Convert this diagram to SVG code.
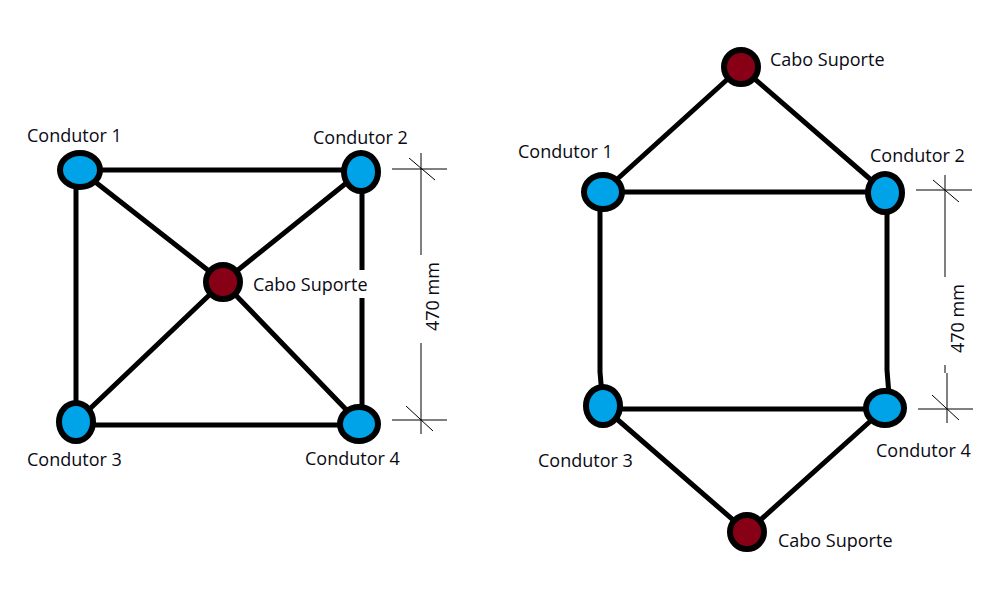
<svg xmlns="http://www.w3.org/2000/svg" width="992" height="594" viewBox="0 0 992 594">
<style>
.c{stroke:#000;stroke-width:5;fill:none}
.d{stroke:#000;stroke-width:1;fill:none}
.b{fill:#00a2e8;stroke:#000;stroke-width:6}
.r{fill:#880015;stroke:#000;stroke-width:6}
text{font-family:"Open Sans","Noto Sans","DejaVu Sans",sans-serif;font-size:18px;fill:#0a0a14}
</style>
<rect width="992" height="594" fill="#fff"/>
<g id="connectors">
<path class="c" d="M80 170H362M76 170V422M362 172V270M362 298V424M76 425H360M80 170L223 282L360 172M76 422L223 282L360 424"/>
<path class="c" d="M603 192H885M600 192V372L603 407M887 194V370L890 408M603 409H885M603 192L741 67L885 192M603 407L747 532L885 408"/>
<path class="d" d="M392 169H447M421 153V255M409 158L435 180M421 343V434M392 420H447M406 406L433 431"/>
<path class="d" d="M916 190H972M945 175V277M933 180L959 202M945 365V373M947 373V423M918 409H973M932 395L959 420"/>
</g>
<g id="n1"><ellipse class="b" cx="80" cy="170" rx="20" ry="17"/><text x="27" y="142">Condutor 1</text></g>
<g id="n2"><ellipse class="b" cx="361" cy="172" rx="17" ry="19"/><text x="313" y="144">Condutor 2</text></g>
<g id="n3"><ellipse class="b" cx="76" cy="422" rx="17" ry="19"/><text x="27" y="466">Condutor 3</text></g>
<g id="n4"><ellipse class="b" cx="359" cy="424" rx="19" ry="17"/><text x="305" y="465">Condutor 4</text></g>
<g id="s1"><circle class="r" cx="223" cy="282" r="17"/><text x="253" y="291">Cabo Suporte</text></g>
<g id="n5"><ellipse class="b" cx="603" cy="192" rx="19" ry="17"/><text x="518" y="158">Condutor 1</text></g>
<g id="n6"><ellipse class="b" cx="885" cy="193" rx="17" ry="19"/><text x="870" y="162">Condutor 2</text></g>
<g id="n7"><ellipse class="b" cx="603" cy="406" rx="17" ry="19"/><text x="538" y="467">Condutor 3</text></g>
<g id="n8"><ellipse class="b" cx="885" cy="408" rx="19" ry="17"/><text x="876" y="457">Condutor 4</text></g>
<g id="s2"><circle class="r" cx="741" cy="67" r="17"/><text x="770" y="66">Cabo Suporte</text></g>
<g id="s3"><circle class="r" cx="747" cy="532" r="17"/><text x="778" y="547">Cabo Suporte</text></g>
<g id="dim1"><text transform="translate(439 331) rotate(-90)">470 mm</text></g>
<g id="dim2"><text transform="translate(964 353) rotate(-90)">470 mm</text></g>
</svg>
